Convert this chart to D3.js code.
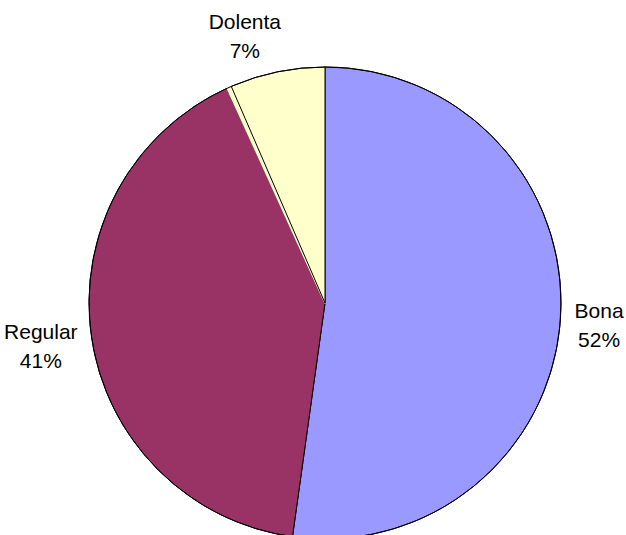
<!DOCTYPE html>
<html>
<head>
<meta charset="utf-8">
<script src="https://cdn.jsdelivr.net/npm/d3@7/dist/d3.min.js"></script>
<style>
  html, body { margin: 0; padding: 0; background: #fff; }
  svg { display: block; }
  text { font-family: "Liberation Sans", Arial, sans-serif; font-size: 21px; fill: #000; }
</style>
</head>
<body>
<svg id="chart" width="626" height="535"></svg>
<script>
// slices in drawing order, clockwise from 12 o'clock
var categories = ["Bona", "Regular", "", "Dolenta"];
var values = [52.2, 41.0, 0.3, 6.5];
var colors = ["#9999ff", "#993366", "#ffffcc", "#ffffcc"];

var width = 626, height = 535;
var cx = 325, cy = 303, radius = 236;

var svg = d3.select("#chart");
var g = svg.append("g").attr("transform", "translate(" + cx + "," + cy + ")");

var total = d3.sum(values);
var data = categories.map(function(c, i){ return {name: c, value: values[i], color: colors[i]}; });

var pie = d3.pie()
  .sort(null)
  .value(function(d){ return d.value; });

var arc = d3.arc().innerRadius(0).outerRadius(radius);

var arcs = pie(data);

// labelled slices get the black border, the unlabelled sliver doesn't
g.selectAll("path.slice")
  .data(arcs)
  .enter()
  .append("path")
  .attr("class", "slice")
  .attr("d", arc)
  .attr("fill", function(d){ return d.data.color; })
  .attr("stroke", function(d){ return d.data.name ? "#000" : d.data.color; })
  .attr("stroke-width", function(d){ return d.data.name ? 1 : 1.5; })
  .attr("stroke-linejoin", "round");

// redraw the outer rim on top
g.append("circle")
  .attr("r", radius)
  .attr("fill", "none")
  .attr("stroke", "#000")
  .attr("stroke-width", 1);

// labels outside the pie, box pushed away from the rim along mid angle
var gap = 14;
arcs.forEach(function(d){
  if (!d.data.name) return;
  var mid = (d.startAngle + d.endAngle) / 2;
  var s = Math.sin(mid), c = Math.cos(mid);
  var px = s * (radius + gap), py = -c * (radius + gap);

  var lbl = g.append("g");
  lbl.append("text").attr("text-anchor", "middle").attr("y", -7).text(d.data.name);
  lbl.append("text").attr("text-anchor", "middle").attr("y", 22)
    .text(Math.round(d.data.value / total * 100) + "%");

  var bb = lbl.node().getBBox();
  var w = bb.width, h = 46;
  var k = Math.min(1, Math.abs(s) * 4);
  var lx = px + (s > 0 ? 1 : -1) * k * w / 2;
  var ly = py - c * h / 2 + 3.5 * Math.abs(s);
  lbl.attr("transform", "translate(" + lx + "," + ly + ")");
});
</script>
</body>
</html>
